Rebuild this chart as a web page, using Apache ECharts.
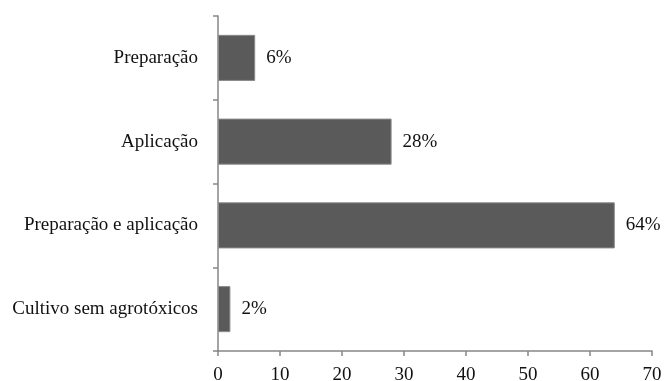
<!DOCTYPE html>
<html>
<head>
<meta charset="utf-8">
<script src="https://cdn.jsdelivr.net/npm/echarts@6/dist/echarts.min.js"></script>
<style>
  html, body { margin: 0; padding: 0; background: #fff; }
  #chart { width: 665px; height: 381px; }
</style>
</head>
<body>
<div id="chart"></div>
<script>
// categories listed bottom-to-top (category axis starts at the bottom)
var categories = ['Cultivo sem agrotóxicos', 'Preparação e aplicação', 'Aplicação', 'Preparação'];
var values = [2, 64, 28, 6];
var xTicks = [0, 10, 20, 30, 40, 50, 60, 70];

var font = '"Liberation Serif", "DejaVu Serif", serif';

var myChart = echarts.init(document.getElementById('chart'));

myChart.setOption({
    animation: false,
    grid: { left: 218, right: 13, top: 16, bottom: 30, containLabel: false, outerBoundsMode: 'none' },
    xAxis: {
        type: 'value',
        min: xTicks[0],
        max: xTicks[xTicks.length - 1],
        interval: 10,
        splitLine: { show: false },
        axisLine: { show: true, lineStyle: { color: '#868686', width: 1.5 } },
        axisTick: { show: true, length: 5, lineStyle: { color: '#868686', width: 1.5 } },
        axisLabel: { color: '#111', fontFamily: font, fontSize: 19, margin: 15 }
    },
    yAxis: {
        type: 'category',
        data: categories,
        axisLine: { show: true, lineStyle: { color: '#868686', width: 1.5 } },
        axisTick: { show: true, length: 5, lineStyle: { color: '#868686', width: 1.5 } },
        axisLabel: { color: '#111', fontFamily: font, fontSize: 19, margin: 20 }
    },
    series: [{
        type: 'bar',
        data: values,
        barCategoryGap: '45%',
        itemStyle: { color: '#5a5a5a', borderColor: '#8a8a8a', borderWidth: 1 },
        label: {
            show: true,
            position: 'right',
            distance: 11,
            formatter: '{c}%',
            color: '#111',
            fontFamily: font,
            fontSize: 19
        }
    }]
});
</script>
</body>
</html>
